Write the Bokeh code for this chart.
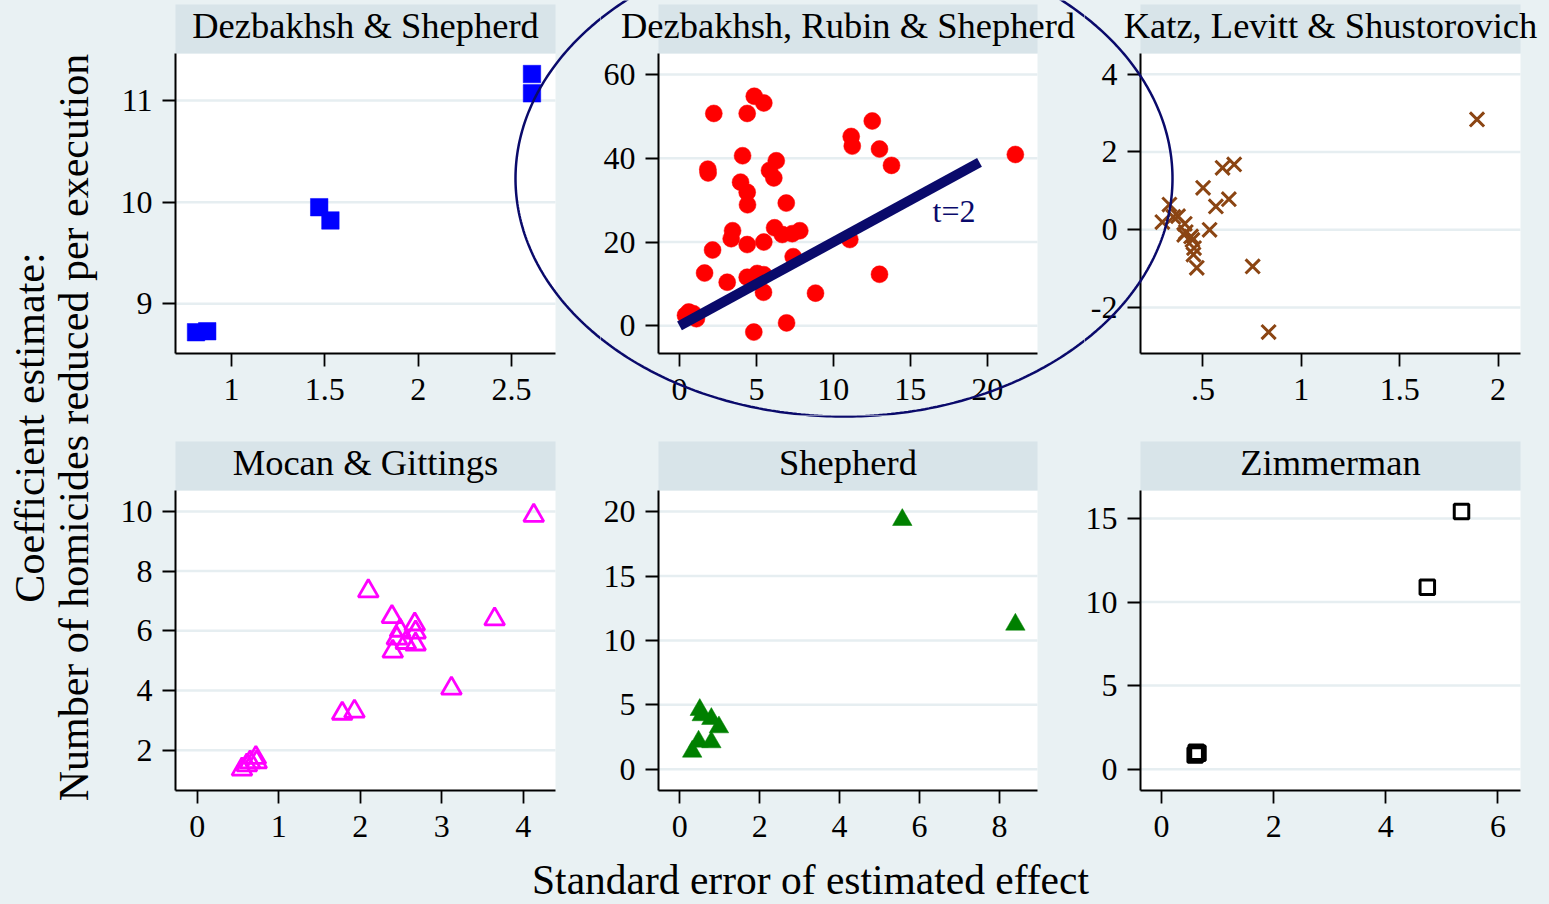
import numpy as np
from bokeh.plotting import figure
from bokeh.models import (Range1d, FixedTicker, BoxAnnotation, Label, PolyAnnotation,
                          GlobalInlineStyleSheet)
from bokeh.layouts import row, column
from bokeh.embed import file_html
from bokeh.resources import INLINE

# ---------------- data ----------------
titles = ["Dezbakhsh & Shepherd", "Dezbakhsh, Rubin & Shepherd", "Katz, Levitt & Shustorovich",
          "Mocan & Gittings", "Shepherd", "Zimmerman"]

ds_se = [0.81, 0.87, 1.47, 1.53, 2.61, 2.61]
ds_coef = [8.72, 8.73, 9.95, 9.82, 11.26, 11.07]

drs_se = [2.23, 4.86, 5.48, 4.40, 4.10, 1.84, 1.86, 3.97, 4.40, 4.42, 6.29, 5.85, 6.13, 6.94,
          11.16, 11.23, 12.53, 13.0, 13.78, 21.83, 3.45, 3.36, 4.40, 5.48, 2.15, 6.18, 6.68,
          7.33, 7.82, 7.39, 1.63, 3.10, 4.40, 5.05, 5.48, 5.46, 8.84, 11.07, 13.0, 6.96, 4.83,
          0.39, 0.90, 1.10, 0.60]
drs_coef = [50.7, 54.8, 53.2, 50.7, 40.6, 37.4, 36.5, 34.3, 31.9, 28.9, 39.4, 37.1, 35.3, 29.3,
            45.2, 42.9, 48.9, 42.2, 38.3, 40.9, 22.7, 20.8, 19.4, 20.0, 18.1, 23.4, 21.8,
            22.0, 22.7, 16.5, 12.6, 10.4, 11.6, 12.5, 12.2, 8.0, 7.8, 20.6, 12.3, 0.7, -1.5,
            2.5, 2.9, 1.7, 3.3]
t2_se = [0.0, 19.5]
t2_coef = [0.0, 39.0]

kls_se = [1.893, 0.600, 0.659, 0.501, 0.632, 0.566, 0.534, 0.753, 0.834, 0.469, 0.452, 0.455,
          0.447, 0.413, 0.408, 0.374, 0.350, 0.330, 0.294, 0.440, 0.405]
kls_coef = [2.836, 1.594, 1.68, 1.08, 0.787, 0.60, 0.0, -0.943, -2.63, -0.977, -0.635, -0.47,
            -0.26, -0.06, 0.154, 0.35, 0.33, 0.65, 0.20, -0.17, -0.13]

mg_se = [4.13, 2.10, 2.39, 3.65, 2.67, 2.49, 2.68, 2.45, 2.56, 2.68, 2.40, 3.12, 1.78, 1.93,
         0.72, 0.65, 0.55, 0.61, 0.73]
mg_coef = [9.86, 7.33, 6.47, 6.39, 6.22, 6.01, 5.95, 5.75, 5.60, 5.55, 5.31, 4.07, 3.23, 3.30,
           1.75, 1.60, 1.36, 1.50, 1.60]

sh_se = [5.57, 8.40, 0.50, 0.55, 0.79, 0.98, 0.79, 0.47, 0.31]
sh_coef = [19.36, 11.23, 4.61, 4.20, 3.91, 3.26, 2.10, 2.15, 1.37]

zi_se = [5.35, 4.74, 0.60, 0.65, 0.62]
zi_coef = [15.42, 10.88, 0.85, 0.95, 1.02]

p1_xt = [1, 1.5, 2, 2.5];        p1_xl = ["1", "1.5", "2", "2.5"]
p1_yt = [9, 10, 11];             p1_yl = ["9", "10", "11"]
p2_xt = [0, 5, 10, 15, 20];      p2_xl = ["0", "5", "10", "15", "20"]
p2_yt = [0, 20, 40, 60];         p2_yl = ["0", "20", "40", "60"]
p3_xt = [0.5, 1, 1.5, 2];        p3_xl = [".5", "1", "1.5", "2"]
p3_yt = [-2, 0, 2, 4];           p3_yl = ["-2", "0", "2", "4"]
p4_xt = [0, 1, 2, 3, 4];         p4_xl = ["0", "1", "2", "3", "4"]
p4_yt = [2, 4, 6, 8, 10];        p4_yl = ["2", "4", "6", "8", "10"]
p5_xt = [0, 2, 4, 6, 8];         p5_xl = ["0", "2", "4", "6", "8"]
p5_yt = [0, 5, 10, 15, 20];      p5_yl = ["0", "5", "10", "15", "20"]
p6_xt = [0, 2, 4, 6];            p6_xl = ["0", "2", "4", "6"]
p6_yt = [0, 5, 10, 15];          p6_yl = ["0", "5", "10", "15"]

# ---------------- style / geometry (page pixels) ----------------
PAGE_BG = "#e9f1f3"
STRIP_BG = "#d8e4e9"
GRID = "#e6eef1"
NAVY = "#0a0a6b"
FONT = "Liberation Serif"

COLS = [(100, 500), (600, 484), (1084, 465)]          # canvas left, width
ROWS = [(0, 415), (415, 435)]                          # canvas top, height
PLOT_X = [(175, 555), (658, 1037), (1140, 1520)]       # white plot region left/right
PLOT_Y = [(53, 353), (490, 790)]                       # white plot region top/bottom
STRIP_H = 49
TITLE_OFF = 21.1    # anchor of the title text below strip top (bokeh baseline quirk)


def key(t):
    return int(t) if float(t).is_integer() else float(t)


def make_panel(r, c, title, xr, yr, xt, xl, yt, yl):
    cx, cw = COLS[c]
    cy, ch = ROWS[r]
    pl, pr = PLOT_X[c]
    pt, pb = PLOT_Y[r]
    x0, x1 = xr
    y0, y1 = yr
    sx = (x1 - x0) / (pr - pl)
    sy = (y1 - y0) / (pb - pt)

    def to_data(px, py):
        return x0 + (np.asarray(px) - pl) * sx, y0 + (pb - np.asarray(py)) * sy

    fx0, fy1 = to_data(cx, cy)
    fx1, fy0 = to_data(cx + cw, cy + ch)
    p = figure(width=cw, height=ch, x_range=Range1d(float(fx0), float(fx1)),
               y_range=Range1d(float(fy0), float(fy1)), output_backend="svg",
               toolbar_location=None, min_border=0)
    p.background_fill_color = PAGE_BG
    p.border_fill_color = PAGE_BG
    p.outline_line_color = None
    p.grid.visible = False

    # white plot region and header strip
    p.add_layout(BoxAnnotation(left=x0, right=x1, bottom=y0, top=y1, fill_color="white",
                               fill_alpha=1, line_color=None, level="image"))
    _, strip_top = to_data(pl, pt - STRIP_H)
    p.add_layout(BoxAnnotation(left=x0, right=x1, bottom=y1, top=float(strip_top),
                               fill_color=STRIP_BG, fill_alpha=1, line_color=None,
                               level="image"))
    # horizontal grid lines at the y ticks
    p.segment(x0=[x0] * len(yt), y0=yt, x1=[x1] * len(yt), y1=yt, line_color=GRID,
              line_width=2.5)

    for ax, ticks, labels in ((p.xaxis[0], xt, xl), (p.yaxis[0], yt, yl)):
        ax.ticker = FixedTicker(ticks=ticks)
        ax.major_label_overrides = {key(t): l for t, l in zip(ticks, labels)}
        ax.major_label_text_font = FONT
        ax.major_label_text_font_size = "32px"
        ax.major_label_text_color = "black"
        ax.axis_line_color = "black"
        ax.axis_line_width = 2
        ax.major_tick_line_color = "black"
        ax.major_tick_line_width = 1.8
        ax.major_tick_out = 13
        ax.major_tick_in = 0
        ax.minor_tick_line_color = None
    p.xaxis.fixed_location = y0
    p.xaxis.bounds = (x0, x1)
    p.xaxis.major_label_standoff = 12
    p.yaxis.fixed_location = x0
    p.yaxis.bounds = (y0, y1)
    p.yaxis.major_label_standoff = 10

    _, ty = to_data(pl, pt - STRIP_H + TITLE_OFF)
    p.add_layout(Label(x=(x0 + x1) / 2, y=float(ty), text=title, text_align="center",
                       text_baseline="alphabetic", text_font=FONT,
                       text_font_size="36.5px", text_color="black"))
    return p, to_data


p1, c1 = make_panel(0, 0, titles[0], (0.70, 2.736), (8.511, 11.462), p1_xt, p1_xl, p1_yt, p1_yl)
p2, c2 = make_panel(0, 1, titles[1], (-1.365, 23.27), (-6.61, 65.01), p2_xt, p2_xl, p2_yt, p2_yl)
p3, c3 = make_panel(0, 2, titles[2], (0.183, 2.114), (-3.18, 4.532), p3_xt, p3_xl, p3_yt, p3_yl)
p4, c4 = make_panel(1, 0, titles[3], (-0.266, 4.397), (0.65, 10.70), p4_xt, p4_xl, p4_yt, p4_yl)
p5, c5 = make_panel(1, 1, titles[4], (-0.533, 8.954), (-1.654, 21.64), p5_xt, p5_xl, p5_yt, p5_yl)
p6, c6 = make_panel(1, 2, titles[5], (-0.375, 6.402), (-1.274, 16.67), p6_xt, p6_xl, p6_yt, p6_yl)

p1.scatter(ds_se, ds_coef, marker="square", size=17.5, fill_color="#0000ff", line_color="#0000ff",
           line_width=0.5)
p2.scatter(drs_se, drs_coef, marker="circle", size=17, fill_color="#ff0000", line_color="#ff0000",
           line_width=0.5)
p2.line(t2_se, t2_coef, line_color=NAVY, line_width=10, line_cap="butt")
p2.add_layout(Label(x=16.45, y=27.3, text="t=2", text_font=FONT, text_font_size="32px",
                    text_color=NAVY, text_align="left", text_baseline="alphabetic"))
p3.scatter(kls_se, kls_coef, marker="x", size=20, line_color="#8b4513", line_width=3)
p4.scatter(mg_se, mg_coef, marker="triangle", size=20, fill_color=None, line_color="#ff00ff",
           line_width=2.8)
p5.scatter(sh_se, sh_coef, marker="triangle", size=19.5, fill_color="#008000",
           line_color="#008000", line_width=0.5)
p6.scatter(zi_se, zi_coef, marker="square", size=14.5, fill_color=None, line_color="black",
           line_width=3)

# big hand-drawn style ellipse around the middle top panel (page-pixel geometry)
th = np.linspace(0, 2 * np.pi, 481)
ex = 843.5 + 328.5 * np.cos(th)
ey = 178 + 238 * np.sin(th)
for p, conv in ((p1, c1), (p2, c2), (p3, c3), (p5, c5)):
    xs, ys = conv(ex, ey)
    p.add_layout(PolyAnnotation(xs=[float(v) for v in xs], ys=[float(v) for v in ys],
                                fill_color=None, fill_alpha=0, line_color=NAVY, line_alpha=1,
                                line_width=2.5, level="overlay"))


def blank(w, h):
    f = figure(width=w, height=h, x_range=Range1d(0, w), y_range=Range1d(0, h),
               output_backend="svg", toolbar_location=None, x_axis_type=None, y_axis_type=None,
               min_border=0)
    f.grid.visible = False
    f.outline_line_color = None
    f.background_fill_color = PAGE_BG
    f.border_fill_color = PAGE_BG
    return f


yfig = blank(100, 850)
yfig.add_layout(Label(x=29.6, y=850 - 427, text="Coefficient estimate:", angle=np.pi / 2,
                      text_align="center", text_baseline="alphabetic", text_font=FONT,
                      text_font_size="42px", text_color="black"))
yfig.add_layout(Label(x=73.6, y=850 - 427, text="Number of homicides reduced per execution",
                      angle=np.pi / 2, text_align="center", text_baseline="alphabetic",
                      text_font=FONT, text_font_size="42px", text_color="black"))

xfig = blank(1549, 54)
xfig.add_layout(Label(x=810, y=24.4, text="Standard error of estimated effect",
                      text_align="center", text_baseline="alphabetic", text_font=FONT,
                      text_font_size="41.5px", text_color="black"))

grid = column(row(p1, p2, p3, spacing=0), row(p4, p5, p6, spacing=0), spacing=0)
root = column(row(yfig, grid, spacing=0), xfig, spacing=0,
              stylesheets=[GlobalInlineStyleSheet(
                  css="html, body { margin: 0 !important; padding: 0; background-color: #e9f1f3; overflow: hidden; }")])

open("out.html", "w").write(file_html(root, INLINE))
